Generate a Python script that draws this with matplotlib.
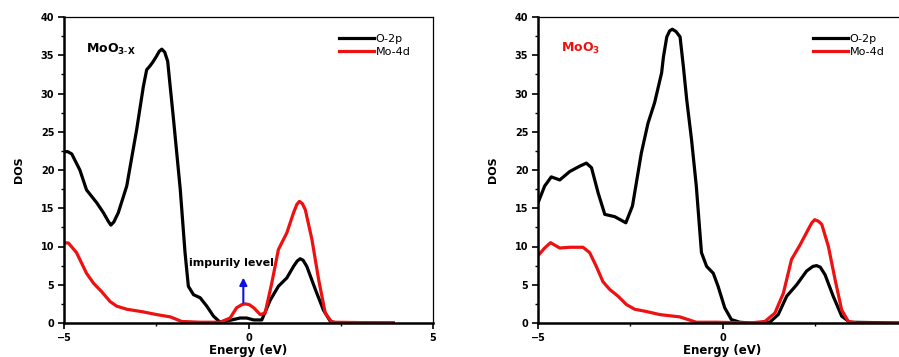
import matplotlib
matplotlib.use("Agg")
import matplotlib.pyplot as plt
from matplotlib.ticker import MultipleLocator

# ---- data ----
x_o2p_left = [-5.0, -4.90, -4.79, -4.57, -4.39, -4.11, -3.93, -3.80, -3.73, -3.65, -3.53, -3.30, -3.03,
              -2.85, -2.76, -2.67, -2.58, -2.49, -2.42, -2.35, -2.27, -2.19, -2.13, -2.04, -1.95,
              -1.85, -1.72, -1.63, -1.49, -1.31, -1.13, -0.95, -0.77,
              -0.50, -0.23, -0.05, 0.14, 0.36, 0.59, 0.81, 1.04, 1.22, 1.32, 1.40, 1.48, 1.58, 1.81, 2.03,
              2.22, 2.40, 3.92]
y_o2p_left = [22.4, 22.4, 22.1, 20.0, 17.4, 15.7, 14.4, 13.3, 12.8, 13.2, 14.4, 17.9, 25.3,
              30.9, 33.1, 33.6, 34.2, 34.9, 35.5, 35.8, 35.4, 34.2, 31.3, 27.0, 22.5,
              17.5, 9.2, 4.8, 3.7, 3.3, 2.2, 0.9, 0.1,
              0.35, 0.65, 0.65, 0.4, 0.4, 3.0, 4.8, 5.9, 7.4, 8.1, 8.4, 8.2, 7.4, 4.4, 1.7,
              0.2, 0.0, 0.0]

x_mo4d_left = [-5.0, -4.88, -4.66, -4.39, -4.20, -3.98, -3.75, -3.57, -3.30, -2.85, -2.49, -2.12,
               -1.81, -1.31, -0.77, -0.50, -0.32, -0.18, -0.09, 0.02, 0.14, 0.32, 0.45, 0.63, 0.81, 1.04,
               1.22, 1.31, 1.38, 1.46, 1.54, 1.72, 1.90, 2.08, 2.26, 3.92]
y_mo4d_left = [10.5, 10.45, 9.2, 6.5, 5.2, 4.1, 2.8, 2.2, 1.8, 1.45, 1.1, 0.8,
               0.2, 0.1, 0.1, 0.65, 2.0, 2.4, 2.5, 2.4, 2.0, 1.1, 1.3, 5.2, 9.6, 11.8,
               14.4, 15.5, 15.9, 15.6, 14.8, 10.9, 5.7, 1.3, 0.1, 0.0]

x_o2p_right = [-5.0, -4.82, -4.64, -4.41, -4.14, -3.87, -3.69, -3.55, -3.37, -3.19, -2.92, -2.62,
               -2.44, -2.20, -2.02, -1.84, -1.65, -1.60, -1.51, -1.43, -1.36, -1.26, -1.15, -1.06,
               -0.97, -0.84, -0.71, -0.57,
               -0.43, -0.25, -0.12, 0.06, 0.24, 0.47, 0.74, 1.28, 1.51, 1.74, 2.01, 2.28, 2.45, 2.55,
               2.65, 2.78, 3.00, 3.23, 3.45, 4.78]
y_o2p_right = [15.7, 17.9, 19.1, 18.7, 19.8, 20.5, 20.9, 20.3, 17.0, 14.2, 13.9, 13.1,
               15.3, 22.2, 26.1, 28.8, 32.7, 34.8, 37.4, 38.2, 38.4, 38.1, 37.4, 33.5,
               29.2, 24.0, 17.9, 9.2,
               7.4, 6.5, 4.8, 2.0, 0.45, 0.1, 0.0, 0.1, 1.1, 3.5, 5.0, 6.8, 7.4, 7.5,
               7.3, 6.3, 3.5, 0.9, 0.1, 0.0]

x_mo4d_right = [-5.0, -4.82, -4.66, -4.41, -4.14, -3.78, -3.60, -3.42, -3.24, -3.06, -2.83, -2.60,
                -2.38, -2.06, -1.70, -1.16, -0.71, -0.16, 0.74, 1.15, 1.42, 1.65, 1.87, 2.10,
                2.32, 2.42, 2.50, 2.60, 2.69, 2.87, 3.05, 3.23, 3.41, 3.64, 4.78]
y_mo4d_right = [8.8, 9.8, 10.5, 9.8, 9.9, 9.9, 9.2, 7.4, 5.4, 4.4, 3.5, 2.4,
                1.8, 1.5, 1.1, 0.8, 0.1, 0.1, 0.0, 0.2, 1.3, 3.9, 8.3, 10.2,
                12.2, 13.1, 13.5, 13.3, 12.9, 10.0, 5.7, 1.7, 0.2, 0.0, 0.0]

series_labels = ["O-2p", "Mo-4d"]
x_ticks_left = [-5, 0, 5]
x_ticks_right = [-5, 0]
y_ticks = [0, 5, 10, 15, 20, 25, 30, 35, 40]

# ---- figure ----
W, H = 899, 357
fig = plt.figure(figsize=(W / 100, H / 100), dpi=100)
fig.patch.set_facecolor("white")


def px_axes(x0, x1, ytop, ybot):
    return [x0 / W, 1 - ybot / H, (x1 - x0) / W, (ybot - ytop) / H]


ax1 = fig.add_axes(px_axes(64, 433, 17, 323))
ax2 = fig.add_axes(px_axes(538, 907, 17, 323))

panels = [
    (ax1, x_o2p_left, y_o2p_left, x_mo4d_left, y_mo4d_left, x_ticks_left),
    (ax2, x_o2p_right, y_o2p_right, x_mo4d_right, y_mo4d_right, x_ticks_right),
]

for ax, xo, yo, xm, ym, xt in panels:
    ax.plot(xo, yo, color="black", lw=2.3, label=series_labels[0], solid_joinstyle="round")
    ax.plot(xm, ym, color="#ee1111", lw=2.3, label=series_labels[1], solid_joinstyle="round")
    ax.set_xlim(-5, 5)
    ax.set_ylim(0, 40)
    ax.set_xticks(xt)
    ax.set_yticks(y_ticks)
    ax.xaxis.set_minor_locator(MultipleLocator(2.5))
    ax.yaxis.set_minor_locator(MultipleLocator(2.5))
    ax.tick_params(which="major", direction="out", length=4, width=1.2, labelsize=7, pad=3)
    ax.tick_params(which="minor", direction="out", length=2.2, width=1.0)
    for lab in ax.get_xticklabels() + ax.get_yticklabels():
        lab.set_fontweight("bold")
    ax.spines["left"].set_linewidth(1.8)
    ax.spines["bottom"].set_linewidth(1.8)
    ax.spines["top"].set_linewidth(0.9)
    ax.spines["right"].set_linewidth(0.9)
    ax.set_ylabel("DOS", fontsize=8, fontweight="bold", labelpad=12)
    ax.set_xlabel("Energy (eV)", fontsize=8.5, fontweight="bold", labelpad=1)
    ax.legend(loc="upper right", bbox_to_anchor=(0.96, 0.97),
              frameon=False, fontsize=8, handlelength=3.2, handletextpad=0.1,
              labelspacing=0.25, borderaxespad=0.3)

ax1.text(-4.4, 35.7, r"MoO$_{\mathregular{3\text{-}X}}$", fontsize=9, fontweight="bold",
         va="center", ha="left")
ax1.annotate("", xy=(-0.14, 6.3), xytext=(-0.14, 2.3),
             arrowprops=dict(arrowstyle="-|>", color="#1010e0", lw=1.5, mutation_scale=11))
ax1.text(-0.45, 7.8, "impurily level", fontsize=8, fontweight="bold", ha="center", va="center")

ax2.text(-4.37, 35.9, r"MoO$_{\mathregular{3}}$", fontsize=9, fontweight="bold", color="#ee1111",
         va="center", ha="left")

fig.savefig("out.png", dpi=100)
